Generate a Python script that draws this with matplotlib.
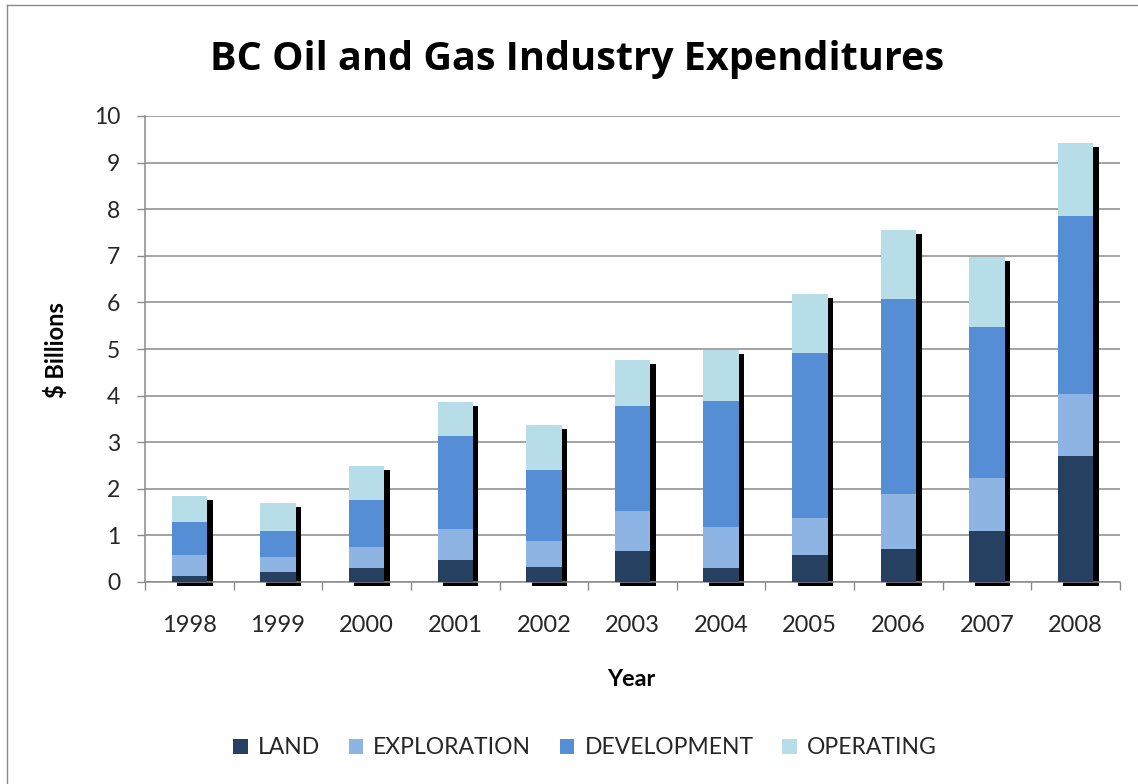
import matplotlib
matplotlib.use('Agg')
import matplotlib.pyplot as plt
import numpy as np
from matplotlib.transforms import ScaledTranslation
from matplotlib.lines import Line2D
from matplotlib.patches import Patch

years = ['1998', '1999', '2000', '2001', '2002', '2003', '2004', '2005', '2006', '2007', '2008']
land = [0.13, 0.21, 0.29, 0.48, 0.32, 0.67, 0.29, 0.59, 0.71, 1.09, 2.71]
exploration = [0.46, 0.33, 0.47, 0.66, 0.57, 0.86, 0.88, 0.78, 1.18, 1.15, 1.32]
development = [0.69, 0.55, 1.01, 1.99, 1.51, 2.25, 2.72, 3.54, 4.18, 3.24, 3.82]
operating = [0.57, 0.60, 0.72, 0.73, 0.96, 0.98, 1.09, 1.26, 1.48, 1.49, 1.56]

series_names = ['LAND', 'EXPLORATION', 'DEVELOPMENT', 'OPERATING']
colors = ['#254061', '#8EB4E3', '#558ED5', '#B7DEE8']

plt.rcParams['font.family'] = ['Lato', 'DejaVu Sans']

W, H = 1138, 784
fig = plt.figure(figsize=(W / 100, H / 100), dpi=100)
ax = fig.add_axes([145 / W, 1 - 582 / H, (1120 - 145) / W, (582 - 116) / H])

x = np.arange(len(years))
series = [land, exploration, development, operating]
totals = np.sum(np.array(series), axis=0)
width = 0.4

shadow_tr = ax.transData + ScaledTranslation(5.5 / 100, -4 / 100, fig.dpi_scale_trans)
ax.bar(x, totals, width=width, color='black', transform=shadow_tr, zorder=2, clip_on=False)

bottom = np.zeros(len(years))
for vals, c, name in zip(series, colors, series_names):
    ax.bar(x, vals, width=width, bottom=bottom, color=c, zorder=3, label=name)
    bottom += np.array(vals)

ax.set_xlim(-0.5, len(years) - 0.5)
ax.set_ylim(0, 10)
ax.set_yticks(range(0, 11))
ax.set_xticks(x)
ax.set_xticklabels(years)
ax.set_xticks(np.arange(-0.5, len(years), 1), minor=True)

gray = '#8a8a8a'
ax.tick_params(axis='x', which='major', length=0, pad=24, labelsize=17, labelcolor='#262626')
ax.tick_params(axis='x', which='minor', length=5.8, width=1.0, color=gray)
ax.tick_params(axis='y', length=5.8, width=1.0, color=gray, pad=12, labelsize=16.5, labelcolor='#262626')

for s in ['top', 'right']:
    ax.spines[s].set_visible(False)
for s in ['left', 'bottom']:
    ax.spines[s].set_color(gray)
    ax.spines[s].set_linewidth(1.1)

ax.yaxis.grid(True, color=gray, linewidth=1.1)
ax.set_axisbelow(True)

fig.text(577 / W, 1 - 70 / H, 'BC Oil and Gas Industry Expenditures', ha='center', va='baseline',
         fontsize=28.5, fontweight='bold', color='black', family=['Open Sans', 'DejaVu Sans'])
fig.text(56 / W, 1 - 350 / H, '$ Billions', ha='center', va='center', rotation=90,
         fontsize=17, fontweight='bold', color='black')
fig.text(631 / W, 1 - 686 / H, 'Year', ha='center', va='baseline',
         fontsize=16.8, fontweight='bold', color='black')

handles = [Patch(facecolor=c, edgecolor='none') for c in colors]
fig.legend(handles, series_names, ncol=4, loc='center', bbox_to_anchor=(585 / W, 1 - 748 / H),
           frameon=False, handlelength=0.62, handleheight=0.62, handletextpad=0.45,
           columnspacing=1.25, fontsize=16.5, labelcolor='#262626')

# outer chart border (top and left visible)
fig.add_artist(Line2D([7 / W, 7 / W], [0, 1 - 5 / H], color='#8a8a8a', lw=1.0, transform=fig.transFigure))
fig.add_artist(Line2D([7 / W, 1], [1 - 5 / H, 1 - 5 / H], color='#8a8a8a', lw=1.0, transform=fig.transFigure))

fig.savefig('out.png', dpi=100, facecolor='white')
